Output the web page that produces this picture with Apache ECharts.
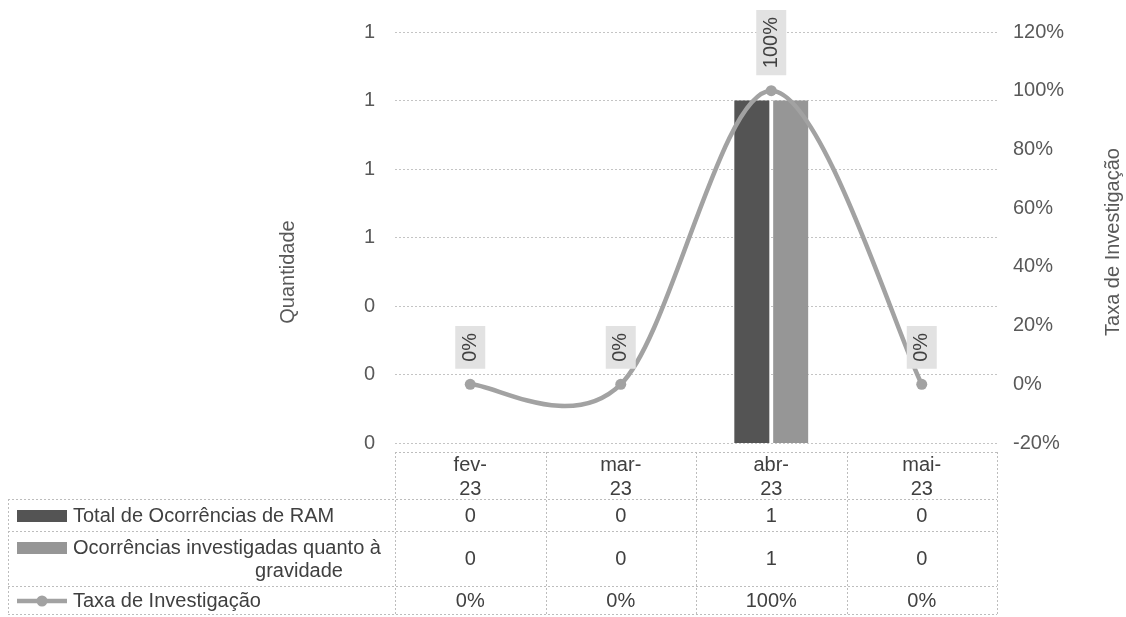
<!DOCTYPE html>
<html><head><meta charset="utf-8">
<script src="https://cdn.jsdelivr.net/npm/echarts@6/dist/echarts.min.js"></script>
<style>html,body{margin:0;padding:0;background:#fff}#c{width:1126px;height:617px}</style>
</head><body><div id="c"></div>
<script>
// ---- data ----
const categories = ['fev-23', 'mar-23', 'abr-23', 'mai-23'];
const totalOcorrencias = [0, 0, 1, 0];
const investigadas = [0, 0, 1, 0];
const taxaInvestigacao = [0, 0, 1, 0];
const seriesNames = ['Total de Ocorrências de RAM', 'Ocorrências investigadas quanto à gravidade', 'Taxa de Investigação'];
const leftTickLabels = ['0', '0', '0', '1', '1', '1', '1'];
const rightTickLabels = ['-20%', '0%', '20%', '40%', '60%', '80%', '100%', '120%'];
const axisTitles = ['Quantidade', 'Taxa de Investigação'];

// ---- styles ----
const FONT = '"Liberation Sans", Arial, sans-serif';
const FS = 20;
const colors = ['#545454', '#969696', '#a2a2a2'];
const axisColor = '#595959';
const textColor = '#404040';
const pct = v => Math.round(v * 100) + '%';

const chart = echarts.init(document.getElementById('c'), null, {renderer: 'canvas'});

// Excel-style smoothed line (Catmull-Rom bezier) drawn through the axis scales
function renderSmooth(params, api) {
  const i = params.dataIndex;
  const n = taxaInvestigacao.length;
  if (i >= n - 1) return null;
  const P = taxaInvestigacao.map((v, k) => api.coord([k, v]));
  const p0 = P[Math.max(i - 1, 0)], p1 = P[i], p2 = P[i + 1], p3 = P[Math.min(i + 2, n - 1)];
  return {
    type: 'bezierCurve',
    shape: {
      x1: p1[0], y1: p1[1], x2: p2[0], y2: p2[1],
      cpx1: p1[0] + (p2[0] - p0[0]) / 6, cpy1: p1[1] + (p2[1] - p0[1]) / 6,
      cpx2: p2[0] - (p3[0] - p1[0]) / 6, cpy2: p2[1] - (p3[1] - p1[1]) / 6
    },
    style: {stroke: colors[2], lineWidth: 4.5, fill: null, lineCap: 'round'}
  };
}

chart.setOption({
  animation: false,
  backgroundColor: '#ffffff',
  legend: {show: false},
  grid: {left: 395, right: 129, top: 32, bottom: 174},
  xAxis: {
    type: 'category', data: categories,
    axisLine: {show: false}, axisTick: {show: false},
    axisLabel: {interval: 0, formatter: v => v.replace('-', '-\n'), fontSize: FS, fontFamily: FONT,
      color: textColor, lineHeight: 24, margin: 10}
  },
  yAxis: [{
    type: 'value', min: 0, max: 1.2, interval: 0.2,
    axisLine: {show: false}, axisTick: {show: false},
    axisLabel: {formatter: (v, i) => leftTickLabels[i], fontSize: FS, fontFamily: FONT, color: axisColor, margin: 20},
    splitLine: {lineStyle: {color: '#c4c4c4', type: [2, 2], width: 1}}
  }, {
    type: 'value', min: -0.2, max: 1.2, interval: 0.2,
    axisLine: {show: false}, axisTick: {show: false}, splitLine: {show: false},
    axisLabel: {formatter: (v, i) => rightTickLabels[i], fontSize: FS, fontFamily: FONT, color: axisColor, margin: 16}
  }],
  series: [{
    name: seriesNames[0], type: 'bar', data: totalOcorrencias, barWidth: 35, barGap: '11%',
    itemStyle: {color: colors[0]}
  }, {
    name: seriesNames[1], type: 'bar', data: investigadas, barWidth: 35, barGap: '11%',
    itemStyle: {color: colors[1]}
  }, {
    name: seriesNames[2] + ' (curva)', type: 'custom', yAxisIndex: 1, z: 4,
    data: taxaInvestigacao.map((v, i) => [i, v]),
    encode: {x: 0, y: 1},
    renderItem: renderSmooth, silent: true
  }, {
    name: seriesNames[2], type: 'line', yAxisIndex: 1, data: taxaInvestigacao,
    symbol: 'circle', symbolSize: 11, z: 5,
    lineStyle: {width: 0, opacity: 0},
    itemStyle: {color: colors[2]},
    label: {
      show: true, position: 'top', distance: 10, rotate: 90, align: 'left', verticalAlign: 'middle',
      formatter: p => pct(p.value), fontSize: FS, fontFamily: FONT, color: textColor,
      backgroundColor: '#e2e2e2', padding: [5, 7]
    }
  }]
});

// ---- data table below the plot ----
function wrapText(text, maxW) {
  const ctx = document.createElement('canvas').getContext('2d');
  ctx.font = FS + 'px ' + FONT;
  const words = text.split(' ');
  const lines = [];
  let cur = '';
  words.forEach(w => {
    const t = cur ? cur + ' ' + w : w;
    if (ctx.measureText(t).width > maxW && cur) { lines.push(cur); cur = w; }
    else cur = t;
  });
  if (cur) lines.push(cur);
  return lines;
}

function buildTable() {
  const centers = categories.map((c, i) => chart.convertToPixel({xAxisIndex: 0}, i));
  const band = centers[1] - centers[0];
  const L = Math.round(centers[0] - band / 2);
  const R = Math.round(centers[centers.length - 1] + band / 2);
  const tableLeft = 8, headerTop = 452, rowTops = [499, 531, 586], bottom = 614;
  const textX = 73, keyX0 = 17, keyX1 = 67;
  const border = {stroke: '#bdbdbd', lineWidth: 1, lineDash: [2, 2]};
  const els = [];
  const hline = (x1, x2, y) => els.push({type: 'line', shape: {x1, y1: y + 0.5, x2, y2: y + 0.5}, style: border, silent: true});
  const vline = (x, y1, y2) => els.push({type: 'line', shape: {x1: x + 0.5, y1, x2: x + 0.5, y2}, style: border, silent: true});

  hline(L, R, headerTop);
  rowTops.forEach(y => hline(tableLeft, R, y));
  hline(tableLeft, R, bottom);
  vline(tableLeft, rowTops[0], bottom);
  for (let i = 0; i <= categories.length; i++) vline(Math.round(L + band * i), headerTop, bottom);

  const rows = [
    {name: seriesNames[0], values: totalOcorrencias.map(String), key: 'bar', color: colors[0]},
    {name: seriesNames[1], values: investigadas.map(String), key: 'bar', color: colors[1]},
    {name: seriesNames[2], values: taxaInvestigacao.map(pct), key: 'line', color: colors[2]}
  ];
  const txt = (x, y, text, align) => els.push({type: 'text', x, y, silent: true,
    style: {text, align, verticalAlign: 'middle', font: FS + 'px ' + FONT, fill: textColor}});

  rows.forEach((r, ri) => {
    const top = rowTops[ri], bot = ri + 1 < rowTops.length ? rowTops[ri + 1] : bottom;
    const cy = (top + bot) / 2 + 1;
    r.values.forEach((v, i) => txt(centers[i], cy, v, 'center'));
    const lines = wrapText(r.name, L - textX - 2);
    const lh = 23;
    const firstY = cy - (lines.length - 1) * lh / 2;
    lines.forEach((ln, k) => {
      if (k === 0) txt(textX, firstY, ln, 'left');
      else txt(L - 96, firstY + k * lh, ln, 'center');
    });
    const keyY = firstY;
    if (r.key === 'bar') {
      els.push({type: 'rect', silent: true, shape: {x: keyX0, y: keyY - 6, width: keyX1 - keyX0, height: 12}, style: {fill: r.color}});
    } else {
      els.push({type: 'line', silent: true, shape: {x1: keyX0, y1: keyY, x2: keyX1, y2: keyY}, style: {stroke: r.color, lineWidth: 4.5}});
      els.push({type: 'circle', silent: true, shape: {cx: (keyX0 + keyX1) / 2, cy: keyY, r: 5.5}, style: {fill: r.color}});
    }
  });

  els.push({type: 'text', x: 288, y: 272, rotation: Math.PI / 2, silent: true,
    style: {text: axisTitles[0], align: 'center', verticalAlign: 'middle', font: FS + 'px ' + FONT, fill: axisColor}});
  els.push({type: 'text', x: 1113, y: 242, rotation: Math.PI / 2, silent: true,
    style: {text: axisTitles[1], align: 'center', verticalAlign: 'middle', font: FS + 'px ' + FONT, fill: axisColor}});

  chart.setOption({graphic: {elements: els}});
}
buildTable();
</script>
</body></html>
